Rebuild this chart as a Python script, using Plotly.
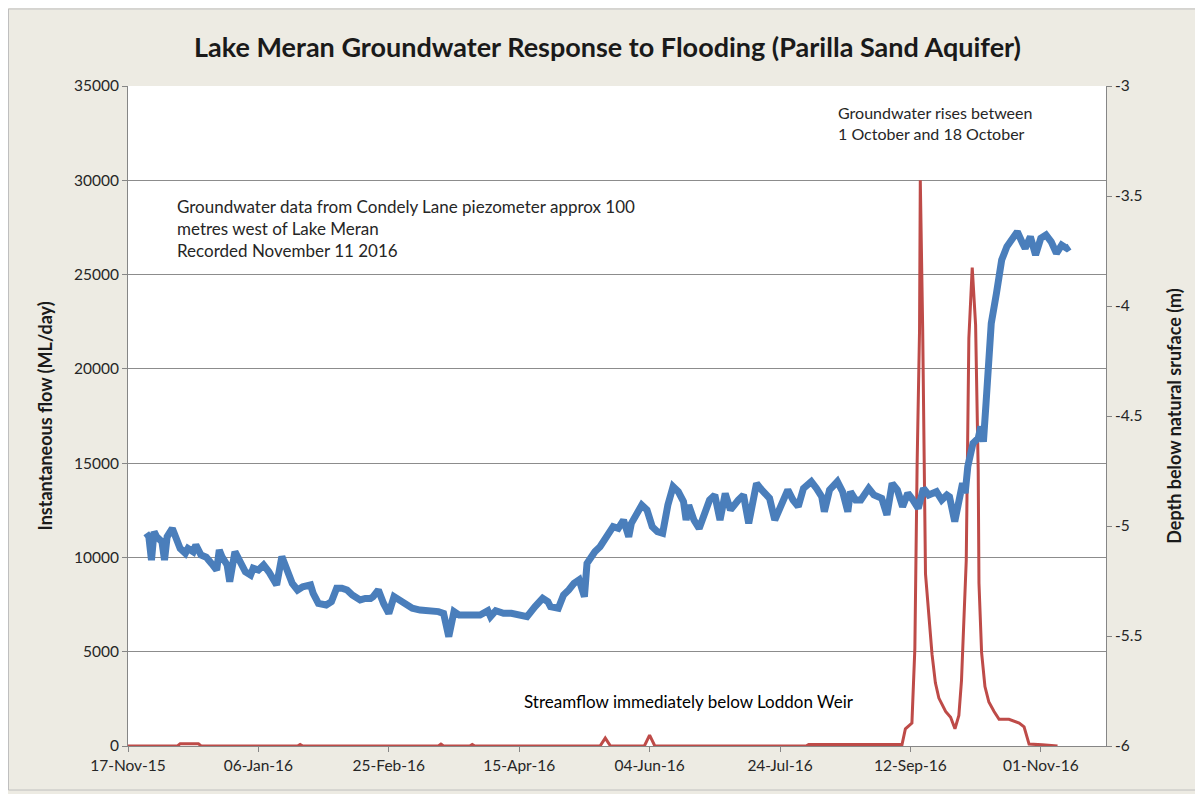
import plotly.graph_objects as go

# Groundwater depth (m, right axis) - Condely Lane piezometer
gw_dates = [
    "2015-11-24","2015-11-25","2015-11-26","2015-11-27","2015-11-28","2015-11-30","2015-12-01","2015-12-02",
    "2015-12-04","2015-12-05","2015-12-07","2015-12-09","2015-12-10","2015-12-12","2015-12-13","2015-12-15",
    "2015-12-17","2015-12-19","2015-12-21","2015-12-22","2015-12-23","2015-12-25","2015-12-26","2015-12-28",
    "2015-12-30","2016-01-01","2016-01-03","2016-01-04","2016-01-06","2016-01-08","2016-01-10","2016-01-12",
    "2016-01-13","2016-01-15","2016-01-17","2016-01-19","2016-01-21","2016-01-23","2016-01-26","2016-01-27",
    "2016-01-29","2016-02-01","2016-02-03","2016-02-05","2016-02-07","2016-02-09","2016-02-11","2016-02-14",
    "2016-02-16","2016-02-18","2016-02-19","2016-02-21","2016-02-23","2016-02-25","2016-02-27","2016-02-29",
    "2016-03-03","2016-03-05","2016-03-08","2016-03-10","2016-03-13","2016-03-15","2016-03-17","2016-03-19",
    "2016-03-21","2016-03-23","2016-03-26","2016-03-31","2016-04-03","2016-04-04","2016-04-06","2016-04-09",
    "2016-04-12","2016-04-16","2016-04-18","2016-04-21","2016-04-24","2016-04-26","2016-04-27","2016-04-30",
    "2016-05-02","2016-05-04","2016-05-06","2016-05-08","2016-05-10","2016-05-11","2016-05-13","2016-05-14",
    "2016-05-16","2016-05-18","2016-05-21","2016-05-23","2016-05-25","2016-05-27","2016-05-28","2016-06-01",
    "2016-06-03","2016-06-05","2016-06-07","2016-06-09","2016-06-11","2016-06-13","2016-06-15","2016-06-17",
    "2016-06-18","2016-06-19","2016-06-21","2016-06-23","2016-06-26","2016-06-27","2016-06-29","2016-07-01",
    "2016-07-03","2016-07-05","2016-07-08","2016-07-10","2016-07-12","2016-07-15","2016-07-17","2016-07-20",
    "2016-07-22","2016-07-24","2016-07-27","2016-07-29","2016-07-31","2016-08-02","2016-08-05","2016-08-07",
    "2016-08-09","2016-08-10","2016-08-12","2016-08-15","2016-08-17","2016-08-19","2016-08-20","2016-08-22",
    "2016-08-24","2016-08-27","2016-08-29","2016-09-01","2016-09-03","2016-09-05","2016-09-07","2016-09-09",
    "2016-09-11","2016-09-13","2016-09-15","2016-09-17","2016-09-19","2016-09-22","2016-09-24","2016-09-26",
    "2016-09-27","2016-09-29","2016-10-01","2016-10-02","2016-10-03","2016-10-04","2016-10-06","2016-10-08",
    "2016-10-09","2016-10-10","2016-10-11","2016-10-12","2016-10-13","2016-10-15","2016-10-16","2016-10-17",
    "2016-10-19","2016-10-21","2016-10-23","2016-10-25","2016-10-26","2016-10-28","2016-10-30","2016-11-01",
    "2016-11-03","2016-11-05","2016-11-07","2016-11-09","2016-11-11","2016-11-12",
]
gw_depth = [
    -5.033,-5.049,-5.155,-5.026,-5.049,-5.071,-5.155,-5.049,
    -5.011,-5.049,-5.102,-5.124,-5.102,-5.117,-5.086,-5.132,
    -5.142,-5.170,-5.200,-5.109,-5.139,-5.177,-5.253,-5.117,
    -5.155,-5.208,-5.223,-5.192,-5.200,-5.177,-5.208,-5.253,
    -5.268,-5.139,-5.200,-5.261,-5.291,-5.276,-5.268,-5.306,
    -5.352,-5.359,-5.344,-5.283,-5.283,-5.291,-5.314,-5.336,
    -5.329,-5.329,-5.321,-5.291,-5.352,-5.397,-5.321,-5.336,
    -5.359,-5.374,-5.382,-5.382,-5.389,-5.389,-5.397,-5.503,
    -5.389,-5.405,-5.405,-5.405,-5.385,-5.412,-5.385,-5.397,
    -5.397,-5.405,-5.412,-5.367,-5.329,-5.344,-5.367,-5.374,
    -5.314,-5.291,-5.261,-5.245,-5.321,-5.170,-5.124,-5.117,
    -5.094,-5.056,-5.003,-5.011,-4.973,-5.049,-4.988,-4.905,
    -4.927,-5.003,-5.026,-5.033,-4.905,-4.821,-4.844,-4.889,
    -4.973,-4.905,-4.973,-5.011,-4.897,-4.882,-4.859,-4.973,
    -4.852,-4.927,-4.882,-4.859,-4.988,-4.806,-4.836,-4.874,
    -4.973,-4.912,-4.836,-4.882,-4.912,-4.829,-4.798,-4.829,
    -4.867,-4.935,-4.836,-4.798,-4.844,-4.935,-4.844,-4.882,
    -4.882,-4.829,-4.859,-4.874,-4.950,-4.806,-4.836,-4.912,
    -4.851,-4.882,-4.920,-4.829,-4.859,-4.844,-4.882,-4.859,
    -4.867,-4.980,-4.867,-4.806,-4.851,-4.730,-4.624,-4.601,
    -4.548,-4.617,-4.442,-4.230,-4.079,-3.942,-3.882,-3.791,
    -3.730,-3.700,-3.662,-3.715,-3.738,-3.685,-3.768,-3.692,
    -3.677,-3.708,-3.761,-3.723,-3.738,-3.730,
]

# Streamflow below Loddon Weir (ML/day, left axis)
flow_dates = [
    "2015-11-17","2015-12-06","2015-12-07","2015-12-14","2015-12-15","2016-01-21","2016-01-22","2016-01-23",
    "2016-03-15","2016-03-16","2016-03-17","2016-03-27","2016-03-28","2016-03-29","2016-05-16","2016-05-18",
    "2016-05-20","2016-06-02","2016-06-04","2016-06-06","2016-08-03","2016-08-04","2016-09-08 19:00",
    "2016-09-10 02:00","2016-09-12 14:00","2016-09-13 17:00","2016-09-14 14:00","2016-09-15 12:00",
    "2016-09-15 19:00","2016-09-16 17:00","2016-09-17 19:00","2016-09-19 07:00","2016-09-20 07:00",
    "2016-09-21 14:00","2016-09-22 22:00","2016-09-25 12:00","2016-09-27 10:00","2016-09-29 02:00",
    "2016-09-30 14:00","2016-10-01 14:00","2016-10-02 12:00","2016-10-03 10:00","2016-10-04 10:00",
    "2016-10-05 17:00","2016-10-07 00:00","2016-10-08 00:00","2016-10-08 07:00","2016-10-09 07:00",
    "2016-10-10 14:00","2016-10-12 02:00","2016-10-14 02:00","2016-10-16 00:00","2016-10-19 19:00",
    "2016-10-23 17:00","2016-10-25 14:00","2016-10-27 12:00","2016-11-01 14:00","2016-11-07 10:00",
]
flow_values = [
    0, 0, 120, 120, 0, 0, 80, 0,
    0, 100, 0, 0, 80, 0, 0, 420,
    0, 0, 580, 0, 0, 80, 80,
    913, 1218, 5175, 15020, 22020,
    30000, 22120, 9130, 6390, 4870,
    3350, 2540, 1830, 1520, 913,
    1620, 3450, 7100, 9840, 21620,
    25370, 22330, 14610, 8630, 4970,
    3150, 2330, 1830, 1420, 1420,
    1218, 1015, 100, 60, 0,
]

left_ticks = [0, 5000, 10000, 15000, 20000, 25000, 30000, 35000]
right_ticks = [-6, -5.5, -5, -4.5, -4, -3.5, -3]
right_ticktext = ["-6", "-5.5", "-5", "-4.5", "-4", "-3.5", "-3"]

FONT = "Lato"
TXT = "#262626"
BLUE = "#4A7EBB"
RED = "#BE4B48"

fig = go.Figure()
fig.add_trace(go.Scatter(
    x=flow_dates, y=flow_values, mode="lines", yaxis="y",
    line=dict(color=RED, width=3), name="Streamflow", showlegend=False,
))
fig.add_trace(go.Scatter(
    x=gw_dates, y=gw_depth, mode="lines", yaxis="y2",
    line=dict(color=BLUE, width=7), name="Groundwater", showlegend=False,
))

fig.update_layout(
    width=1195, height=786,
    margin=dict(l=120, r=97, t=78, b=48),
    paper_bgcolor="#EDEBE3",
    plot_bgcolor="white",
    font=dict(family=FONT, color=TXT, size=15),
    title=dict(
        text="<b>Lake Meran Groundwater Response to Flooding (Parilla Sand Aquifer)</b>",
        x=0.5017, xanchor="center", y=0.950, yanchor="middle",
        font=dict(family=FONT, size=27, color="#1a1a1a"),
    ),
    xaxis=dict(
        type="date", range=["2015-11-17", "2016-11-26"],
        tick0="2015-11-17", dtick=50 * 86400000, tickformat="%d-%b-%y",
        ticks="outside", ticklen=5, tickcolor="#868686",
        showline=True, linecolor="#868686", linewidth=1,
        showgrid=False, zeroline=False,
        tickfont=dict(size=15.5, color=TXT),
    ),
    yaxis=dict(
        range=[0, 35000], tickvals=left_ticks, tickformat="d",
        ticks="outside", ticklen=5, tickcolor="#868686",
        showline=True, linecolor="#868686", linewidth=1,
        showgrid=True, gridcolor="#8C8C8C", gridwidth=1,
        zeroline=False,
        title=dict(text="<b>Instantaneous flow (ML/day)</b>", font=dict(size=18, color="#1a1a1a"), standoff=16),
        tickfont=dict(size=15.5, color=TXT),
    ),
    yaxis2=dict(
        range=[-6, -3], tickvals=right_ticks, ticktext=right_ticktext,
        overlaying="y", side="right",
        ticks="outside", ticklen=5, tickcolor="#868686",
        showline=True, linecolor="#868686", linewidth=1,
        showgrid=False, zeroline=False,
        title=dict(text="<b>Depth below natural sruface (m)</b>", font=dict(size=18, color="#1a1a1a"), standoff=26),
        tickfont=dict(size=15.5, color=TXT),
    ),
    shapes=[
        dict(type="rect", xref="paper", yref="paper", x0=-0.1222, x1=1.0941, y0=-0.0667, y1=1.1167,
             line=dict(color="#BFBFBF", width=1), fillcolor="rgba(0,0,0,0)", layer="above"),
    ],
    annotations=[
        dict(xref="paper", yref="paper", x=0.0476, y=0.836, xanchor="left", yanchor="top", align="left",
             showarrow=False, font=dict(size=17, color=TXT),
             text="Groundwater data from Condely Lane piezometer approx 100<br>metres west of Lake Meran<br>Recorded November 11 2016"),
        dict(xref="paper", yref="paper", x=0.7238, y=0.978, xanchor="left", yanchor="top", align="left",
             showarrow=False, font=dict(size=16, color=TXT),
             text="Groundwater rises between<br>1 October and 18 October"),
        dict(xref="paper", yref="paper", x=0.4026, y=0.0667, xanchor="left", yanchor="middle", align="left",
             showarrow=False, font=dict(size=17, color="#000000"),
             text="Streamflow immediately below Loddon Weir"),
    ],
)

fig.write_html("out.html")
